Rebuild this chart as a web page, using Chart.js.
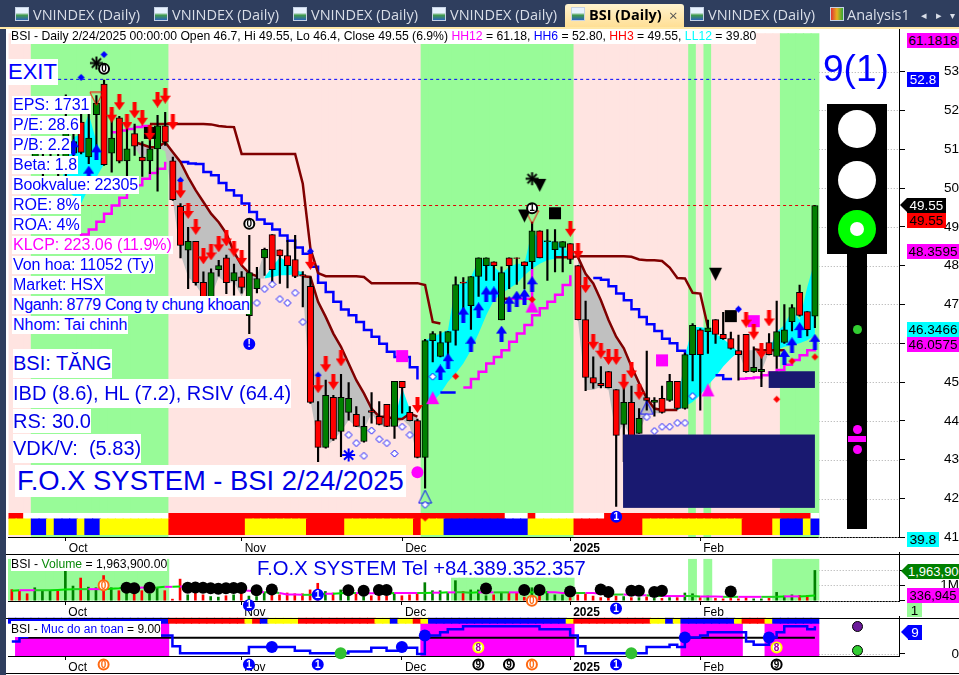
<!DOCTYPE html>
<html>
<head>
<meta charset="utf-8">
<title>BSI (Daily)</title>
<script src="https://cdn.jsdelivr.net/npm/chart.js@4/dist/chart.umd.min.js"></script>
<style>
  html, body { margin: 0; padding: 0; background: #fff; }
  #page { position: relative; width: 959px; height: 675px; overflow: hidden; background: #fff;
          font-family: "Liberation Sans", Arial, sans-serif; }
  canvas { position: absolute; left: 0; }
  .abs { position: absolute; white-space: pre; }
  #tabs { position: absolute; left: 0; top: 0; width: 959px; height: 27px; background: #2f3e5e;
          border-bottom: 2px solid #ffe8a6; box-sizing: content-box; }
  .tab { position: absolute; top: 5px; color: #d9dee8; font: 14.5px "Open Sans", sans-serif; line-height: 20px; white-space: pre; }
  .ico { position: absolute; top: 7px; width: 14px; height: 14px; box-sizing: border-box; border: 1px solid #c6d2e4;
         background: linear-gradient(#e8f2ff 40%, #3f9a4a 60%, #2b62b8); }
  #active { position: absolute; left: 565px; top: 4px; width: 119px; height: 23px; background: linear-gradient(#fff3cf, #ffdf95); border-radius: 3px 3px 0 0; }
  .info { position: absolute; left: 12px; background: #fff; color: #0000ff; font-size: 16px; line-height: 18px; padding: 0 1px; white-space: pre; }
  .big { position: absolute; left: 13px; background: #fff; color: #0000e6; font-size: 20px; white-space: pre; }
  .tag { position: absolute; height: 15px; line-height: 15px; font-size: 13.5px; text-align: center; color: #000; white-space: pre; }
  .line { position: absolute; height: 1px; background: #000; }
  .lamp { position: absolute; border-radius: 50%; }
</style>
</head>
<body>
<div id="page">
  <!-- each canvas starts 8px above its panel: the layout keeps half a tick label free on top -->
  <canvas id="priceChart" width="959" height="534" style="top:20px"></canvas>
  <canvas id="volChart" width="959" height="72" style="top:546px"></canvas>
  <canvas id="safeChart" width="959" height="63" style="top:610px"></canvas>

  <div class="line" style="left:0;top:554px;width:959px"></div>
  <div class="line" style="left:0;top:618px;width:959px"></div>
  <div class="line" style="left:0;top:673px;width:959px"></div>
  <div style="position:absolute;left:0;top:0;width:6px;height:675px;background:#2f3e5e"></div>

  <div id="tabs">
    <div id="active"></div>
    <div class="ico" style="left:15px"></div><div class="tab" style="left:33px">VNINDEX (Daily)</div>
    <div class="ico" style="left:154px"></div><div class="tab" style="left:172px">VNINDEX (Daily)</div>
    <div class="ico" style="left:293px"></div><div class="tab" style="left:311px">VNINDEX (Daily)</div>
    <div class="ico" style="left:432px"></div><div class="tab" style="left:450px">VNINDEX (Daily)</div>
    <div class="ico" style="left:571px"></div><div class="tab" style="left:589px;color:#000;font-weight:bold">BSI (Daily)</div>
    <div class="tab" style="left:669px;color:#555;font-size:15px">×</div>
    <div class="ico" style="left:690px"></div><div class="tab" style="left:708px">VNINDEX (Daily)</div>
    <div class="ico" style="left:830px;background:linear-gradient(90deg,#d33,#e8b020,#3a3)"></div><div class="tab" style="left:847px">Analysis1</div>
    <div class="tab" style="left:921px;font-size:11px">◂</div><div class="tab" style="left:936px;font-size:11px">▸</div><div class="tab" style="left:950px;font-size:10px">▾</div>
  </div>

  <div class="abs" style="left:11px;top:29px;height:15px;line-height:15px;background:#fff;font-size:12.2px;color:#000">BSI - Daily 2/24/2025 00:00:00 Open 46.7, Hi 49.55, Lo 46.4, Close 49.55 (6.9%) <span style="color:#f0f">HH12</span> = 61.18, <span style="color:#00f">HH6</span> = 52.80, <span style="color:#f00">HH3</span> = 49.55, <span style="color:#0ff">LL12</span> = 39.80</div>

  <div class="abs" style="left:8px;top:59px;height:26px;line-height:26px;background:#fff;color:#00f;font-size:22px;padding-right:1px">EXIT</div>
  <div class="info" style="top:96px">EPS: 1731</div>
  <div class="info" style="top:116px">P/E: 28.6</div>
  <div class="info" style="top:136px">P/B: 2.2</div>
  <div class="info" style="top:156px">Beta: 1.8</div>
  <div class="info" style="top:176px;letter-spacing:-0.2px">Bookvalue: 22305</div>
  <div class="info" style="top:196px">ROE: 8%</div>
  <div class="info" style="top:216px">ROA: 4%</div>
  <div class="info" style="top:236px;color:#f0f">KLCP: 223.06 (11.9%)</div>
  <div class="info" style="top:256px;letter-spacing:-0.1px">Von hoa: 11052 (Ty)</div>
  <div class="info" style="top:276px">Market: HSX</div>
  <div class="info" style="top:296px;letter-spacing:-0.35px">Nganh: 8779 Cong ty chung khoan</div>
  <div class="info" style="top:316px">Nhom: Tai chinh</div>

  <div class="big" style="top:349px;height:29px;line-height:29px">BSI: TĂNG</div>
  <div class="big" style="top:379px;height:29px;line-height:29px">IBD (8.6), HL (7.2), RSIV (64.4)</div>
  <div class="big" style="top:409px;height:24px;line-height:24px">RS: 30.0</div>
  <div class="big" style="top:434px;height:29px;line-height:29px">VDK/V:  (5.83)</div>
  <div class="abs" style="left:15px;top:465px;height:32px;line-height:32px;background:#fff;color:#0000e6;font-size:27.4px;padding:0 2px">F.O.X SYSTEM - BSI 2/24/2025</div>

  <div class="abs" style="left:11px;top:557px;height:14px;line-height:14px;background:#fff;font-size:12.2px">BSI - <span style="color:#0a8a0a">Volume</span> = 1,963,900.00</div>
  <div class="abs" style="left:257px;top:556px;height:24px;line-height:24px;color:#0000e6;font-size:20.25px">F.O.X SYSTEM Tel +84.389.352.357</div>
  <div class="abs" style="left:11px;top:621px;height:16px;line-height:16px;background:#fff;font-size:12px">BSI - <span style="color:#00f">Muc do an toan</span> = 9.00</div>

  <div class="abs" style="left:823px;top:47px;color:#0000ff;font-size:37px;line-height:44px">9(1)</div>

  <!-- traffic light -->
  <div style="position:absolute;left:827px;top:104px;width:60px;height:150px;background:#000"></div>
  <div style="position:absolute;left:847px;top:254px;width:20px;height:275px;background:#000"></div>
  <div class="lamp" style="left:838px;top:110px;width:38px;height:38px;background:#fff"></div>
  <div class="lamp" style="left:838px;top:161px;width:38px;height:38px;background:#fff"></div>
  <div class="lamp" style="left:838px;top:210px;width:38px;height:38px;background:#00ff00"></div>
  <div class="lamp" style="left:850px;top:222px;width:14px;height:14px;background:#fff"></div>
  <div class="lamp" style="left:853px;top:325px;width:9px;height:9px;background:#32cd32"></div>
  <div class="lamp" style="left:853px;top:425px;width:9px;height:9px;background:#f0f"></div>
  <div style="position:absolute;left:848px;top:436px;width:18px;height:6px;background:#f0f"></div>
  <div class="lamp" style="left:853px;top:445px;width:9px;height:9px;background:#f0f"></div>
  <div class="lamp" style="left:852px;top:621px;width:9px;height:9px;background:#6a1b9a;border:1px solid #000"></div>
  <div class="lamp" style="left:852px;top:645px;width:9px;height:9px;background:#32cd32;border:1px solid #000"></div>

  <!-- last value tags on the right axes -->
  <div class="tag" style="left:907px;top:33px;width:52px;background:#f0f">61.1818</div>
  <div class="tag" style="left:907px;top:72px;width:32px;background:#00f;color:#fff">52.8</div>
  <div class="tag" style="left:907px;top:198px;width:39px;background:#000;color:#fff">49.55</div>
  <div style="position:absolute;left:900px;top:198px;border-right:7px solid #000;border-top:7px solid transparent;border-bottom:7px solid transparent"></div>
  <div class="tag" style="left:907px;top:213px;width:39px;background:#f00">49.55</div>
  <div class="tag" style="left:907px;top:244px;width:52px;background:#f0f">48.3595</div>
  <div class="tag" style="left:907px;top:322px;width:52px;background:#0ff">46.3466</div>
  <div class="tag" style="left:907px;top:337px;width:52px;background:#f0f">46.0575</div>
  <div class="tag" style="left:907px;top:532px;width:32px;background:#0ff">39.8</div>
  <div class="tag" style="left:908px;top:564px;width:51px;background:#008000;color:#fff;overflow:hidden;font-size:13px">1,963,900</div>
  <div style="position:absolute;left:901px;top:564px;border-right:7px solid #008000;border-top:7px solid transparent;border-bottom:7px solid transparent"></div>
  <div class="tag" style="left:907px;top:588px;width:52px;background:#f0f;font-size:13px">336,945</div>
  <div class="tag" style="left:907px;top:603px;width:15px;height:14px;background:#98fb98">1</div>
  <div class="tag" style="left:908px;top:625px;width:14px;background:#00f;color:#fff">9</div>
  <div style="position:absolute;left:901px;top:625px;border-right:7px solid #00f;border-top:7px solid transparent;border-bottom:7px solid transparent"></div>
</div>

<script>
// === data, index 0 = first bar on the left, 105 = 2/24/2025 ===
const tickIdx = [7, 30, 51, 73, 90];
const tickLabels = ['Oct', 'Nov', 'Dec', '2025', 'Feb'];
const priceTicks = [41, 42, 43, 44, 45, 46, 47, 48, 49, 50, 51, 52, 53];

const opens = [null, null, null, 50.7, 50.6, 50.9, 50.7, 50.5, 50.9,
  51.70, 50.80, 51.89, 52.68, 50.90, 51.81, 50.70, 51.40, 50.80, 50.70, 51.01, 51.60,
  50.70, 49.53, 48.40, 48.63, 47.57, 47.00, 47.90, 48.20, 47.61, 47.71, 46.71, 47.41, 48.20, 48.80, 48.41, 48.26, 48.16, 47.77, 47.47,
  44.01, 43.32, 44.61, 43.73, 44.22, 44.17, 43.47, 44.27, 44.12, 44.43, 43.86, 45.02, 44.22, 44.01,
  43.06, 46.07, 45.66, 46.02, 46.33, 47.58, 46.97, 47.72, 48.00, 48.10, 46.60, 48.20, 48.20, 48.10, 48.10, 48.90, 48.62, 48.41, 48.47, 48.57,
  48.00, 46.61, 45.12, 44.97, 45.27, 44.81, 43.91, 44.48, 43.68, 44.60, 44.48, 44.58, 44.53, 45.02, 44.32, 45.71, 46.35, 46.30, 46.61, 46.23, 46.12, 45.81,
  46.23, 45.27, 45.27, 46.02, 45.66, 46.02, 46.56, 47.31, 46.82, 46.70];
const closes = [null, null, null, 50.9, 50.8, 51.1, 50.5, 51.5, 51.2,
  50.92, 51.29, 52.19, 50.60, 51.29, 50.69, 51.01, 51.08, 50.70, 51.01, 51.60, 51.18,
  49.70, 48.52, 48.63, 47.56, 47.00, 47.82, 48.00, 47.56, 47.82, 47.44, 47.82, 47.67, 48.42, 47.90, 48.25, 48.00, 47.72, 47.73, 44.48,
  43.32, 44.66, 43.53, 44.61, 44.58, 43.86, 43.86, 44.22, 43.91, 43.86, 45.02, 44.86, 44.01, 43.06,
  46.07, 46.25, 46.02, 46.30, 47.51, 47.55, 47.72, 48.20, 48.20, 48.00, 47.82, 48.00, 48.19, 48.00, 48.90, 48.20, 48.64, 48.62, 48.62, 48.16,
  46.61, 45.12, 44.97, 44.91, 44.86, 43.63, 44.48, 43.53, 44.07, 44.53, 44.54, 44.22, 45.02, 44.32, 45.71, 46.46, 45.71, 46.40, 46.23, 46.12, 45.87, 45.71,
  45.27, 45.38, 45.33, 45.71, 46.30, 46.35, 46.92, 46.72, 46.35, 49.55];
const highs = [null, null, null, 51.1, 51.0, 51.3, 51.0, 52.4, 51.4,
  51.90, 51.91, 52.38, 52.78, 51.95, 51.85, 51.53, 51.65, 51.20, 51.40, 51.87, 51.95,
  50.80, 49.60, 48.99, 48.63, 47.84, 47.92, 48.14, 48.27, 48.04, 47.85, 48.78, 47.96, 48.45, 48.80, 48.41, 48.65, 48.78, 47.85, 47.71,
  44.50, 45.05, 44.66, 45.20, 44.99, 44.37, 44.11, 44.73, 44.50, 44.43, 45.02, 45.02, 44.37, 44.05,
  46.10, 46.30, 46.30, 46.30, 47.71, 47.69, 47.72, 48.20, 48.20, 48.10, 47.97, 48.20, 48.20, 48.10, 49.12, 48.90, 48.93, 48.93, 48.62, 48.57,
  48.00, 47.09, 45.65, 45.40, 45.28, 44.81, 45.05, 44.90, 44.32, 45.80, 44.60, 44.90, 45.20, 45.02, 45.75, 46.51, 46.38, 46.60, 46.61, 46.80, 46.29, 46.21,
  46.23, 45.91, 45.87, 46.25, 47.09, 47.00, 47.00, 47.50, 46.82, 49.55];
const lows = [null, null, null, 50.4, 50.3, 50.6, 50.2, 50.3, 50.6,
  50.88, 50.63, 50.90, 50.58, 50.41, 50.65, 50.31, 50.84, 50.30, 50.37, 49.92, 51.10,
  49.68, 48.20, 47.41, 47.50, 46.90, 46.90, 47.73, 47.28, 47.24, 47.29, 46.25, 47.30, 47.75, 47.54, 47.54, 47.43, 47.69, 46.94, 44.45,
  42.95, 43.30, 43.50, 43.08, 44.02, 43.85, 43.45, 43.94, 43.90, 43.85, 43.55, 44.20, 44.00, 43.05,
  42.27, 45.52, 45.65, 45.61, 45.95, 46.85, 46.36, 47.21, 47.62, 47.62, 46.60, 47.41, 47.52, 47.40, 47.92, 48.20, 47.62, 47.84, 47.84, 48.05,
  46.60, 44.78, 44.84, 44.85, 44.85, 41.80, 42.95, 43.50, 43.68, 44.28, 44.12, 44.20, 44.50, 44.30, 44.30, 45.03, 44.28, 45.74, 46.00, 46.10, 45.85, 45.05,
  45.25, 45.25, 44.88, 45.70, 45.35, 46.00, 46.32, 46.70, 46.19, 46.40];

// background zones: G = green, P = pink
const regime = 'PPPGGGGGGGGGGGGGGGGGGPPPPPPPPPPPPPPPPPPPPPPPPPPPPPPPPPGGGGGGGGGGGGGGGGGGGGPPPPPPPPPPPPPPPGPGPPPPPPPPPGGGGG';
// colour strips under the price panel and on top of the safety panel
const stripTop = 'RRWWWWWWWWWWWWWWWWWWWRRRRRRRRRRRRRRRRRRRRRRRRRRRRRRRRRRRRRRRRRRRRWWWRWWWWWWWWWRRRRRRRRRRRRRRRRRRRRRRRRRRRWWWRW';
const stripLow = 'YYYBBYBBBYBBYYYYYYYYYRRRRRRRRRRYYYYYYYYRRRRRYYYYYYYYYRYYYBBBBBBBBBBBYYYYYYRRRRRRRRRYYYYYYYYYYYYYRRRRYBBBYB';
const stripSafe = 'BBBBBBBBBBBBBBBBBBBBBRRRRRRRRRRYRBYYYYRRRRRRRRRRYYBYYRYBBBBBBBBBBBBBBBBBBYRRRRRRRRRRYYBYBBBBBBBYRRRYBBBBBB';
const safeZone = '0111111111111111111110000000000000000000000000000000001111111111111111111100000000000000111111110001111111';

// trailing stop lines, each starts at its *From bar
const stopBlue1From = 22;
const stopBlue1 = [50.67, 50.63, 50.62, 50.41, 50.33, 50.13, 49.94, 49.81, 49.6, 49.38, 49.19, 49.08, 48.93, 48.78, 48.64, 48.47, 48.31, 47.97, 47.56, 47.32, 47.07, 46.87, 46.72, 46.55, 46.34, 46.17, 45.99, 45.78, 45.65, 45.65, 45.38, 45.07];
const stopBlue2From = 56;
const stopBlue2 = [44.73, 44.73, 44.73];
const stopBlue3From = 76;
const stopBlue3 = [47.68, 47.64, 47.47, 47.28, 47.11, 46.88, 46.68, 46.49, 46.32, 46.12, 46.0, 45.81, 45.65];
const stopBlue4From = 92;
const stopBlue4 = [45.18, 45.08, 45.05];
const stopPink1From = 8;
const stopPink1 = [48.7, 48.8, 48.93, 49.13, 49.34, 49.55, 49.75, 49.9, 50.07, 50.24, 50.39, 50.5, 50.68];
const stopPink2From = 13;
const stopPink2 = [51.44, 51.48, 51.52, 51.57, 51.6, 51.64];
const stopPink3From = 59;
const stopPink3 = [44.86, 45.08, 45.27, 45.48, 45.65, 45.82, 46.04, 46.25, 46.47, 46.72, 46.9, 47.07, 47.25, 47.5, 47.75];
const stopPink4From = 65;
const stopPink4 = [47.15, 47.15, 47.15, 47.92];
const stopPink5From = 95;
const stopPink5 = [45.09, 45.1, 45.12, 45.18, 45.25, 45.31, 45.45, 45.57, 45.69, 45.82, 46.06];

const upperRed1From = 18;
const upperRed1 = [51.65, 51.65, 51.65, 51.65, 51.65, 51.65, 51.65, 51.65, 51.64, 51.6, 51.58, 51.57, 50.88, 50.88, 50.88, 50.88, 50.88, 50.88, 50.88, 50.88, 50.11, 48.44, 47.81, 47.73, 47.73, 47.73, 47.73, 47.73, 47.71, 47.55, 47.55, 47.55, 47.55, 47.55, 47.55, 47.55, 47.5, 46.55, 46.51];
const upperRed2From = 71;
const upperRed2 = [48.22, 48.22, 48.22, 48.24, 48.24, 48.24, 48.24, 48.24, 48.24, 48.24, 48.23, 48.16, 48.14, 48.14, 48.12, 47.95, 47.68, 47.67, 47.3, 47.28, 46.42];
const upperRed3From = 97;
const upperRed3 = [45.85, 45.82, 45.82, 45.82, 45.82];
const upperRed4From = 64;
const upperRed4 = [47.15, 47.15];

// grey clouds (falling) and cyan clouds (rising)
const grey1From = 16;
const grey1Top = [51.18, 51.12, 51.05, 51.05, 51.18, 50.92, 50.67, 50.28, 49.94, 49.64, 49.34, 49.12, 48.83, 48.35, 48.01, 47.8, 47.73, 48.4];
const grey1Low = [51.05, 50.75, 51.0, 51.05, 50.95, 49.68, 48.3, 47.71, 47.5, 47.2, 47.2, 47.71, 47.54, 47.58, 47.2, 47.6, 47.67, 47.67];
const grey2From = 38;
const grey2Top = [47.73, 47.71, 47.07, 46.68, 46.25, 45.91, 45.48, 45.05, 44.71, 44.32, 44.11, 44.11, 44.05, 44.05, 44.19, 44.11];
const grey2Low = [47.45, 44.54, 43.42, 43.32, 43.51, 43.72, 44.02, 43.85, 43.77, 44.2, 43.9, 43.85, 43.85, 44.05, 43.85, 43.08];
const grey3From = 74;
const grey3Top = [48.22, 47.79, 47.54, 47.11, 46.6, 46.17, 45.87, 45.4, 44.97, 44.58, 44.32, 44.28, 44.28, 44.28];
const grey3Low = [46.6, 44.8, 44.8, 44.88, 44.8, 43.6, 43.94, 43.5, 43.68, 44.2, 44.2, 44.2, 44.28, 44.28];
const grey4From = 95;
const grey4Top = [45.78, 45.82, 45.82, 45.82, 45.82];
const grey4Low = [45.78, 45.27, 45.31, 45.27, 45.78];
const cyan1From = 6;
const cyan1Top = [49.9, 50.54, 51.31, 51.4, 51.91, 51.2, 50.8];
const cyan1Low = [49.9, 49.94, 49.8, 49.6, 50.0, 50.28, 50.62];
const cyan2From = 33;
const cyan2Top = [47.7, 47.97, 48.22, 48.1, 47.88, 47.84];
const cyan2Low = [47.67, 47.71, 47.75, 47.75, 47.78, 47.73];
const cyan3From = 50;
const cyan3Top = [44.0, 44.85, 44.3];
const cyan3Low = [44.0, 44.05, 44.19];
const cyan4From = 54;
const cyan4Top = [46.08, 46.17, 46.25, 46.34, 47.5, 47.54, 47.71, 48.14, 48.18, 47.97, 47.8, 47.97, 48.05, 48.05, 48.91, 48.65, 48.65, 48.61, 48.57, 48.22];
const cyan4Low = [44.37, 44.49, 44.71, 45.01, 45.22, 45.48, 45.82, 46.25, 46.72, 47.11, 47.28, 47.41, 47.54, 47.75, 47.92, 48.05, 48.14, 48.18, 48.22, 48.22];
const cyan5From = 85;
const cyan5Top = [44.32, 44.3, 44.33, 45.69, 46.42, 46.42, 46.38, 46.25, 46.12, 45.95, 45.78];
const cyan5Low = [44.28, 44.26, 44.28, 44.37, 44.49, 44.67, 44.92, 45.14, 45.4, 45.61, 45.78];
const cyan6From = 99;
const cyan6Top = [45.82, 46.3, 46.47, 46.85, 46.6, 47.45, 48.14];
const cyan6Low = [45.82, 45.82, 45.91, 45.95, 46.0, 46.08, 46.21];

const hh6 = 52.8;
const hh3 = 49.55;

// markers: bar index + price
const downIdx = [13, 14, 15, 16, 17, 18, 19, 20, 21, 22, 23, 24, 25, 26, 27, 28, 29, 30, 39, 40, 41, 42, 43, 53, 73, 74, 75, 76, 77, 78, 79, 80, 81, 82, 96, 97, 98, 99];
const downVal = [51.89, 52.21, 51.7, 52.0, 51.81, 51.42, 52.28, 52.38, 51.7, 49.94, 49.41, 49.0, 48.24, 48.34, 48.55, 48.7, 48.44, 48.2, 48.1, 44.92, 45.46, 45.01, 45.61, 44.41, 48.95, 48.38, 47.5, 46.04, 45.81, 45.65, 45.65, 45.01, 45.3, 44.75, 46.61, 46.3, 45.8, 46.64];
const upIdx = [8, 10, 11, 56, 57, 59, 60, 61, 62, 63, 64, 65, 66, 67, 68, 101, 102, 103, 105];
const upVal = [51.05, 50.37, 50.92, 45.25, 45.54, 46.74, 45.99, 46.85, 47.26, 47.26, 46.25, 47.02, 47.15, 47.2, 47.52, 45.65, 45.95, 46.34, 46.04];
const redDotIdx = [54, 58, 68, 100, 102, 105];
const redDotVal = [41.5, 45.15, 47.13, 44.56, 45.54, 45.65];
const blueDotIdx = [9, 12, 22, 39, 40, 95];
const blueDotVal = [52.85, 53.44, 50.2, 48.37, 45.18, 46.88];
const hollowIdx = [32, 33, 34, 35, 36, 37, 38, 44, 45, 46, 47, 48, 49, 50, 51, 52, 54, 55, 83, 84, 85, 86, 87, 88, 89];
const hollowVal = [47.04, 47.4, 47.52, 47.14, 47.04, 47.3, 46.55, 43.64, 43.43, 43.1, 43.75, 43.53, 43.43, 43.16, 43.85, 43.64, 41.84, 45.14, 44.1, 43.74, 43.85, 43.85, 43.95, 43.95, 44.64];
const pinkTriIdx = [55, 68, 91];
const pinkTriVal = [44.6, 46.96, 44.8];
const pinkSqIdx = [51, 85, 97];
const pinkSqVal = [45.67, 45.56, 46.57];
const pinkCircleIdx = [53];
const pinkCircleVal = [42.68];
const blueTriIdx = [54, 83];
const blueTriVal = [42.05, 44.34];
const redTriIdx = [11, 68];
const redTriVal = [52.3, 49.25];
const blackSqIdx = [18, 71, 94];
const blackSqVal = [51.42, 49.35, 46.7];
const blackTriIdx = [67, 69, 92];
const blackTriVal = [49.28, 50.07, 47.78];
const starIdx = [11, 68];
const starVal = [53.22, 50.24];
const flakeIdx = [44];
const flakeVal = [43.12];
const boxFrom = [79.9, 98.95];
const boxTo = [105, 105];
const boxLow = [41.76, 44.85];
const boxHigh = [43.65, 45.28];

const priceBadgeIdx = [12, 31, 68, 31, 79];
const priceBadgeVal = [53.07, 49.08, 49.48, 45.98, 41.53];
const priceBadgeText = ['0', '0', '1', '!', '1'];
const priceBadgeKind = ['black', 'black', 'black', 'blue', 'blue'];

// volume panel
const volumes = [0.72, 0.61, 0.45, 0.84, 0.65, 0.65, 0.65, 2.0, 0.95, 1.47, 0.88, 0.84, 1.63, 0.84, 0.65, 0.54, 0.43, 0.65, 0.43, 0.84, 0.65,
  0.1, 1.4, 0.38, 0.5, 0.38, 0.27, 0.23, 0.32, 0.38, 0.5, 0.3, 0.27, 0.54, 0.38, 0.38, 0.5, 0.45, 0.45, 0.7, 1.13, 0.6, 0.5, 0.7, 0.38, 0.5, 0.27, 0.32, 0.38, 0.32, 0.5, 0.32, 0.38, 0.45,
  1.17, 0.65, 0.65, 0.5, 1.3, 0.6, 0.7, 0.7, 0.32, 0.38, 0.54, 0.54, 0.54, 0.23, 0.84, 0.38, 0.6, 0.38, 0.38, 0.2,
  0.38, 0.45, 0.3, 0.2, 0.2, 0.3, 0.27, 0.2, 0.2, 0.25, 0.15, 0.15, 0.2, 0.2, 0.5, 0.45, 0.2, 0.3, 0.15, 0.12, 0.15, 0.12, 0.2, 0.12, 0.12, 0.15, 0.54, 0.3, 0.38, 0.34, 0.34, 1.9639];
const volAvg = [0.65, 0.68, 0.68, 0.68, 0.68, 0.68, 0.7, 0.72, 0.75, 0.75, 0.75, 0.75, 0.75, 0.78, 0.8, 0.85, 0.85, 0.85, 0.85, 0.85, 0.9,
  0.9, 0.92, 0.9, 0.85, 0.8, 0.75, 0.72, 0.7, 0.7, 0.68, 0.65, 0.6, 0.55, 0.55, 0.5, 0.4, 0.4, 0.38, 0.38, 0.4, 0.45, 0.45, 0.48, 0.5, 0.5, 0.48, 0.48, 0.48, 0.45, 0.5, 0.5, 0.5, 0.5,
  0.5, 0.52, 0.52, 0.54, 0.54, 0.54, 0.52, 0.54, 0.54, 0.54, 0.54, 0.54, 0.54, 0.54, 0.55, 0.5, 0.54, 0.54, 0.5, 0.5,
  0.5, 0.5, 0.5, 0.45, 0.4, 0.4, 0.4, 0.38, 0.35, 0.35, 0.3, 0.3, 0.3, 0.3, 0.3, 0.3, 0.28, 0.28, 0.28, 0.25, 0.25, 0.25, 0.25, 0.25, 0.25, 0.25, 0.25, 0.28, 0.28, 0.28, 0.3, 0.337];
const volTicks = [0, 1, 1.9639];
const volZoneHigh = 2.69;
const volZoneLow = 1.47;
const volZoneHighIdx = [0, 1, 2, 3, 4, 5, 6, 7, 8, 9, 10, 11, 12, 13, 14, 15, 16, 17, 18, 19, 20, 89, 91, 100, 101, 102, 103, 104, 105];
const volZoneLowIdx = [58, 59, 60, 61, 62, 63, 64, 65, 66, 67, 68, 69, 70, 71, 72, 73];
const volDotIdx = [15, 16, 18, 23, 24, 25, 26, 27, 28, 29, 30, 32, 34, 44, 46, 48, 49, 62, 67, 69, 73, 77, 78, 81, 82, 84, 85, 94];
const volDotVal = [0.84, 0.8, 0.84, 0.84, 0.86, 0.84, 0.8, 0.78, 0.8, 0.82, 0.82, 0.68, 0.72, 0.68, 0.65, 0.7, 0.7, 0.79, 0.7, 0.7, 0.6, 0.72, 0.56, 0.65, 0.65, 0.56, 0.65, 0.6];
const volBadgeIdx = [12, 31, 40, 68, 79];
const volBadgeVal = [1.0, -0.29, 0.39, 0.0, -0.5];
const volBadgeText = ['0', '1', '1', '0', '1'];
const volBadgeKind = ['orange', 'blue', 'blue', 'orange', 'blue'];

// safety panel
const safety = [4, 5.5, 6, 6, 6, 6, 6, 6, 6, 6, 6, 6, 6, 6, 6, 6, 6, 6, 6, 6, 6,
  2.5, 0.2, 0.2, 0.2, 0.2, 0.2, 0.2, 0.2, 0.2, 0.2, 2.25, 2.25, 2.25, 2.25, 2.25, 2.25, 1, 1, 0.2, 0.2, 0.2, 0.2, 0.2, 0.75, 0.75, 0.75, 2, 2, 1, 1, 2, 2, 0,
  6, 6, 7, 8, 8, 9, 9, 9, 9, 9, 9, 9, 9, 9, 9, 8, 8, 8, 8, 6,
  2.5, 0.2, 0.2, 0.2, 0.2, 0.2, 0.2, 0.2, 0.2, 2.25, 2.25, 2.25, 3, 2.25, 5.3, 5.3, 6, 7, 7, 7, 7, 7, 4, 3, 3, 5.3, 7, 9, 9, 9, 8, 9];
const safeLevel = 5.24;
const safeTicks = [0];
const safeBlueIdx = [34, 51, 54, 88, 99];
const safeBlueVal = [2.25, 2.25, 6, 5.3, 5.3];
const safeGreenIdx = [43, 81];
const safeGreenVal = [0.2, 0.2];
const safeBadgeIdx = [12, 31, 40, 61, 65, 68, 79, 100, 61, 100];
const safeBadgeVal = [-3.42, -3.42, -3.42, -3.42, -3.42, -3.42, -3.42, -3.42, 2.05, 2.05];
const safeBadgeText = ['0', '1', '1', '9', '9', '0', '1', '9', '8', '8'];
const safeBadgeKind = ['orange', 'blue', 'blue', 'black', 'black', 'orange', 'blue', 'black', 'yellow', 'yellow'];

const GREEN_BG = '#98fb98';
const PINK_BG = '#ffe4e1';
const STRIP = { R: '#ff0000', Y: '#ffff00', B: '#0000ff', W: '#ffffff' };
const FONT = '"Liberation Sans", Arial, sans-serif';
const BARS = 106;

// === helpers ===
const run = (from, values) => values.map((y, i) => ({ x: from + i, y }));
const pts = (xs, ys) => xs.map((x, i) => ({ x, y: ys[i] }));
const chars = s => s.split('');

function icon(w, h, paint) {
  const c = document.createElement('canvas');
  c.width = w; c.height = h;
  paint(c.getContext('2d'), w, h);
  return c;
}
function poly(g, points, fill, stroke) {
  g.beginPath();
  points.forEach((p, i) => i ? g.lineTo(p[0], p[1]) : g.moveTo(p[0], p[1]));
  g.closePath();
  if (fill) { g.fillStyle = fill; g.fill(); }
  if (stroke) { g.strokeStyle = stroke; g.lineWidth = 1; g.stroke(); }
}
const arrowIcon = (color, up) => icon(11, 16, (g, w, h) => {
  const p = [[3.5, 0], [7.5, 0], [7.5, 8], [11, 8], [5.5, 16], [0, 8], [3.5, 8]];
  poly(g, up ? p.map(q => [q[0], h - q[1]]) : p, color);
});
const triUp = (color, stroke) => icon(15, 15, (g, w, h) => poly(g, [[7.5, 1], [14, 14], [1, 14]], color, stroke));
const triDown = (color, stroke) => icon(15, 15, (g, w, h) => poly(g, [[1, 1], [14, 1], [7.5, 14]], color, stroke));
const diamond = (color, stroke) => icon(9, 9, (g, w, h) => poly(g, [[4.5, 1], [8, 4.5], [4.5, 8], [1, 4.5]], color, stroke));
const asterisk = icon(15, 15, g => {
  g.strokeStyle = '#000'; g.lineWidth = 2;
  for (let a = 0; a < 4; a++) {
    const dx = Math.cos(a * Math.PI / 4) * 6.5, dy = Math.sin(a * Math.PI / 4) * 6.5;
    g.beginPath(); g.moveTo(7.5 - dx, 7.5 - dy); g.lineTo(7.5 + dx, 7.5 + dy); g.stroke();
  }
});

// every later dataset is painted above the earlier ones
function stack(list) {
  list.forEach((d, i) => { d.order = 1000 - i; });
  return list;
}
function bars(data, color, thickness, extra) {
  return Object.assign({ type: 'bar', data, backgroundColor: color, barThickness: thickness, grouped: false, borderSkipped: false, borderWidth: 0 }, extra);
}
function line(data, color, width, extra) {
  return Object.assign({ type: 'line', data, borderColor: color, borderWidth: width, pointRadius: 0, fill: false, tension: 0 }, extra);
}
function marks(data, style, size, extra) {
  return Object.assign({ type: 'line', data, showLine: false, pointStyle: style, pointRadius: size, pointBackgroundColor: '#000', pointBorderWidth: 0, clip: false }, extra);
}
function cloud(from, top, low, color) {
  return [
    line(run(from, top), 'rgba(0,0,0,0)', 0, { fill: { target: '+1', above: color, below: color } }),
    line(run(from, low), 'rgba(0,0,0,0)', 0)
  ];
}
function stepLine(from, values, color) {
  return line(run(from, values), color, 2.5, { stepped: true });
}

const badgeStyle = {
  black: { ring: '#000', fill: '#fff', text: '#000' },
  blue: { ring: '#0000ff', fill: '#0000ff', text: '#fff' },
  orange: { ring: '#ff6a13', fill: '#fff', text: '#ff6a13' },
  yellow: { ring: '#ffff00', fill: '#fff', text: '#a000a0' }
};
function badgePlugin(idx, vals, texts, kinds) {
  return {
    id: 'badges',
    afterDraw(chart) {
      const g = chart.ctx, sx = chart.scales.x, sy = chart.scales.y;
      g.save();
      g.textAlign = 'center'; g.textBaseline = 'middle';
      g.font = 'bold 10px ' + FONT;
      idx.forEach((i, n) => {
        const st = badgeStyle[kinds[n]];
        const x = sx.getPixelForValue(i), y = sy.getPixelForValue(vals[n]);
        g.beginPath(); g.arc(x, y, 5, 0, Math.PI * 2);
        g.fillStyle = st.fill; g.fill();
        g.lineWidth = 2; g.strokeStyle = st.ring; g.stroke();
        g.fillStyle = st.text;
        g.fillText(texts[n], x, y + 0.5);
      });
      g.restore();
    }
  };
}
// dotted guides only in the free space right of the last bar
const rightGrid = {
  id: 'rightGrid',
  beforeDatasetsDraw(chart) {
    const g = chart.ctx, sx = chart.scales.x, sy = chart.scales.y;
    g.save();
    g.strokeStyle = '#aaa'; g.setLineDash([1, 2]); g.lineWidth = 1;
    sy.ticks.forEach(t => {
      const y = Math.round(sy.getPixelForValue(t.value)) + 0.5;
      g.beginPath(); g.moveTo(sx.getPixelForValue(105.5), y); g.lineTo(chart.chartArea.right, y); g.stroke();
    });
    g.restore();
  }
};
const navyBoxes = {
  id: 'navyBoxes',
  afterDatasetsDraw(chart) {
    const g = chart.ctx, sx = chart.scales.x, sy = chart.scales.y;
    g.save();
    g.fillStyle = '#191970';
    boxFrom.forEach((from, n) => {
      const x0 = sx.getPixelForValue(from), x1 = sx.getPixelForValue(boxTo[n]);
      const y0 = sy.getPixelForValue(boxHigh[n]), y1 = sy.getPixelForValue(boxLow[n]);
      g.fillRect(x0, y0, x1 - x0, y1 - y0);
    });
    g.restore();
  }
};

function panelOptions(yMin, yMax, yTicks, yLabel, yPad) {
  return {
    responsive: false,
    animation: false,
    devicePixelRatio: 1,
    layout: { padding: { left: 8, right: 0, top: 0, bottom: 0 } },
    plugins: { legend: { display: false }, tooltip: { enabled: false } },
    scales: {
      x: {
        type: 'linear', min: -0.5, max: 116, offset: false,
        afterBuildTicks: s => { s.ticks = tickIdx.map(value => ({ value })); },
        afterFit: s => { s.height = 17; s.paddingLeft = 0; s.paddingRight = 0; },
        grid: { offset: false, drawOnChartArea: false, color: '#000', tickLength: 4 },
        border: { color: '#000' },
        ticks: {
          autoSkip: false, maxRotation: 0, align: 'start', padding: 0, labelOffset: 3, color: '#000',
          font: ctx => ({ family: FONT, size: 12, weight: ctx.tick && ctx.tick.value === 73 ? 'bold' : 'normal' }),
          callback: v => tickLabels[tickIdx.indexOf(v)] || ''
        }
      },
      y: {
        position: 'right', min: yMin, max: yMax,
        afterBuildTicks: s => { s.ticks = yTicks.map(value => ({ value })); },
        // tick padding would otherwise also shrink the panel vertically
        afterFit: s => { s.width = 60; s.paddingTop = 0; s.paddingBottom = 0; },
        grid: { drawOnChartArea: false, color: '#000', tickLength: 6 },
        border: { color: '#000' },
        ticks: { autoSkip: false, color: '#000', crossAlign: 'far', padding: yPad, font: { family: FONT, size: 13.5 }, callback: yLabel }
      }
    }
  };
}

document.addEventListener('DOMContentLoaded', () => {
  const allBars = Array.from({ length: BARS }, (_, i) => i);
  const candleBars = allBars.filter(i => opens[i] !== null);

  // === price panel ===
  new Chart(document.getElementById('priceChart'), {
    data: {
      datasets: stack([
        bars(allBars.map(i => ({ x: i, y: [41.01, 53.98] })), chars(regime).map(c => c === 'G' ? GREEN_BG : PINK_BG), 8.2),
        bars(allBars.map(i => ({ x: i, y: [41.48, 41.62] })), chars(stripTop).map(c => STRIP[c]), 8.2),
        bars(allBars.map(i => ({ x: i, y: [41.07, 41.48] })), chars(stripLow).map(c => STRIP[c]), 8.2),
        ...cloud(grey1From, grey1Top, grey1Low, '#c0c0c0'),
        ...cloud(grey2From, grey2Top, grey2Low, '#c0c0c0'),
        ...cloud(grey3From, grey3Top, grey3Low, '#c0c0c0'),
        ...cloud(grey4From, grey4Top, grey4Low, '#c0c0c0'),
        ...cloud(cyan1From, cyan1Top, cyan1Low, '#00ffff'),
        ...cloud(cyan2From, cyan2Top, cyan2Low, '#00ffff'),
        ...cloud(cyan3From, cyan3Top, cyan3Low, '#00ffff'),
        ...cloud(cyan4From, cyan4Top, cyan4Low, '#00ffff'),
        ...cloud(cyan5From, cyan5Top, cyan5Low, '#00ffff'),
        ...cloud(cyan6From, cyan6Top, cyan6Low, '#00ffff'),
        line(pts([6, 105], [hh6, hh6]), '#0000ff', 1, { borderDash: [3, 3] }),
        line(pts([9, 105], [hh3, hh3]), '#e00000', 1, { borderDash: [3, 3] }),
        stepLine(stopBlue1From, stopBlue1, '#0000ff'),
        stepLine(stopBlue2From, stopBlue2, '#0000ff'),
        stepLine(stopBlue3From, stopBlue3, '#0000ff'),
        stepLine(stopBlue4From, stopBlue4, '#0000ff'),
        stepLine(stopPink1From, stopPink1, '#ff00ff'),
        stepLine(stopPink2From, stopPink2, '#ff00ff'),
        stepLine(stopPink3From, stopPink3, '#ff00ff'),
        stepLine(stopPink4From, stopPink4, '#ff00ff'),
        stepLine(stopPink5From, stopPink5, '#ff00ff'),
        line(run(upperRed1From, upperRed1), '#800000', 2.5),
        line(run(upperRed2From, upperRed2), '#800000', 2.5),
        line(run(upperRed3From, upperRed3), '#800000', 2.5),
        line(run(upperRed4From, upperRed4), '#800000', 2.5),
        line(run(grey1From, grey1Top.slice(0, 17)), '#800000', 2.5),
        line(run(grey2From, grey2Top), '#800000', 2.5),
        line(run(grey3From, grey3Top), '#800000', 2.5),
        // wicks and candle bodies
        bars(candleBars.map(i => ({ x: i, y: [lows[i], highs[i]] })), '#000', 1.5),
        bars(candleBars.map(i => ({ x: i, y: [Math.min(opens[i], closes[i]), Math.max(opens[i], closes[i])] })),
          candleBars.map(i => closes[i] >= opens[i] ? '#008000' : '#ff0000'), 6.4, { borderWidth: 1, borderColor: '#000' }),
        // signals
        marks(pts(pinkSqIdx, pinkSqVal), 'rect', 8.5, { pointBackgroundColor: '#ff00ff' }),
        marks(pts(blackSqIdx, blackSqVal), 'rect', 8.5, { pointBackgroundColor: '#000' }),
        marks(pts(pinkCircleIdx, pinkCircleVal), 'circle', 6, { pointBackgroundColor: '#ff00ff' }),
        marks(pts(pinkTriIdx, pinkTriVal), triUp('#ff00ff'), 7),
        marks(pts(blueTriIdx, blueTriVal), triUp(null, '#0000ff'), 7),
        marks(pts(redTriIdx, redTriVal), triDown(null, '#ff0000'), 7),
        marks(pts(blackTriIdx, blackTriVal), triDown('#000'), 7),
        marks(pts(starIdx, starVal), asterisk, 7),
        marks(pts(flakeIdx, flakeVal), 'star', 6.5, { pointBorderColor: '#0000ff', pointBorderWidth: 2, pointBackgroundColor: '#fff' }),
        marks(pts(hollowIdx, hollowVal), diamond('#ffffff', '#0000ff'), 4),
        marks(pts(blueDotIdx, blueDotVal), diamond('#0000ff'), 4),
        marks(pts(redDotIdx, redDotVal), diamond('#ff0000'), 4),
        marks(pts(downIdx, downVal), arrowIcon('#ff0000', false), 7),
        marks(pts(upIdx, upVal), arrowIcon('#0000ff', true), 7)
      ])
    },
    options: panelOptions(41.01, 54.11, priceTicks, v => String(v), 36.5),
    plugins: [rightGrid, navyBoxes, badgePlugin(priceBadgeIdx, priceBadgeVal, priceBadgeText, priceBadgeKind)]
  });

  // === volume panel ===
  new Chart(document.getElementById('volChart'), {
    data: {
      datasets: stack([
        bars(volZoneHighIdx.map(i => ({ x: i, y: [0, volZoneHigh] })), GREEN_BG, 8.2),
        bars(volZoneLowIdx.map(i => ({ x: i, y: [0, volZoneLow] })), GREEN_BG, 8.2),
        bars(allBars.map(i => ({ x: i, y: [0, volumes[i]] })),
          allBars.map(i => opens[i] === null || closes[i] < opens[i] ? '#ff0000' : '#008000'), 2),
        line(run(0, volAvg), '#ff00ff', 2, {
          segment: { borderColor: c => c.p1.parsed.y > c.p0.parsed.y ? '#00e000' : c.p0DataIndex % 5 < 3 ? '#ff00ff' : '#20d020' }
        }),
        marks(pts(volDotIdx, volDotVal), 'circle', 6, { pointBackgroundColor: '#000' })
      ])
    },
    options: panelOptions(-0.02, 3.16, volTicks, v => v === 1 ? '1M' : '', 33),
    plugins: [rightGrid, badgePlugin(volBadgeIdx, volBadgeVal, volBadgeText, volBadgeKind)]
  });

  // === safety panel ===
  new Chart(document.getElementById('safeChart'), {
    data: {
      datasets: stack([
        bars(allBars.filter(i => safeZone[i] === '1').map(i => ({ x: i, y: [-0.69, 9.93] })), '#ff00ff', 8.2),
        bars(allBars.map(i => ({ x: i, y: [9.93, 11.64] })), chars(stripSafe).map(c => STRIP[c]), 8.2),
        line(pts([1, 105], [safeLevel, safeLevel]), '#000', 2),
        line(run(0, safety), '#0000ff', 2.5, { stepped: true }),
        marks(pts(safeBlueIdx, safeBlueVal), 'circle', 6, { pointBackgroundColor: '#0000ff' }),
        marks(pts(safeGreenIdx, safeGreenVal), 'circle', 6, { pointBackgroundColor: '#32c032' })
      ])
    },
    options: panelOptions(-0.69, 12.33, safeTicks, v => String(v), 44),
    plugins: [rightGrid, badgePlugin(safeBadgeIdx, safeBadgeVal, safeBadgeText, safeBadgeKind)]
  });
});
</script>
</body>
</html>
